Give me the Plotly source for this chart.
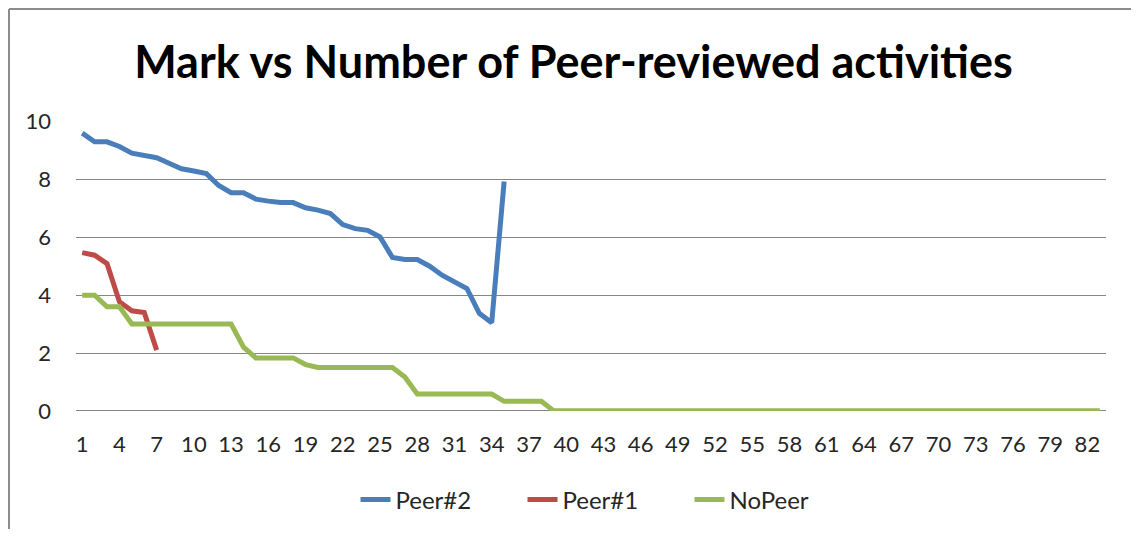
import plotly.graph_objects as go

categories = list(range(1, 84))
tick_vals = list(range(1, 83, 3))
tick_text = [str(v) for v in tick_vals]

peer2 = [9.6, 9.3, 9.3, 9.14, 8.91, 8.85, 8.75, 8.56, 8.37, 8.29, 8.2, 7.79, 7.54, 7.54,
         7.32, 7.25, 7.2, 7.2, 7.02, 6.94, 6.82, 6.44, 6.3, 6.24, 6.01, 5.3, 5.23, 5.23,
         5.0, 4.69, 4.48, 4.23, 3.37, 3.05, 7.93]
peer1 = [5.47, 5.38, 5.09, 3.77, 3.46, 3.4, 2.1]
nopeer = [4.0, 4.0, 3.6, 3.6, 3.0, 3.0, 3.0, 3.0, 3.0, 3.0, 3.0, 3.0, 3.0, 2.2,
          1.83, 1.83, 1.83, 1.83, 1.6, 1.5, 1.5, 1.5, 1.5, 1.5, 1.5, 1.5, 1.17,
          0.58, 0.58, 0.58, 0.58, 0.58, 0.58, 0.58, 0.33, 0.33, 0.33, 0.33,
          0, 0, 0, 0, 0, 0, 0, 0, 0, 0, 0, 0, 0, 0, 0, 0, 0, 0, 0, 0, 0, 0, 0,
          0, 0, 0, 0, 0, 0, 0, 0, 0, 0, 0, 0, 0, 0, 0, 0, 0, 0, 0, 0, 0, 0, 0, 0]

series = [
    ("Peer#2", peer2, "#4A7EBB"),
    ("Peer#1", peer1, "#BE4B48"),
    ("NoPeer", nopeer, "#98B954"),
]

fig = go.Figure()
for name, vals, color in series:
    fig.add_trace(go.Scatter(
        x=categories[:len(vals)], y=vals, mode="lines", name=name,
        line=dict(color=color, width=5),
    ))

# page body has an 8px margin: work in target-pixel coords shifted by OFF
OFF = 8
W, H = 1139 - 2 * OFF, 537 - 2 * OFF
L, R, T, B = 76 - OFF, 1106 - OFF, 121 - OFF, 411 - OFF

def px_x(p):
    return (p - OFF - L) / (R - L)

def px_y(p):
    return (B - (p - OFF)) / (B - T)

fig.update_layout(
    width=W, height=H,
    margin=dict(l=L, r=W - R, t=T, b=H - B, pad=0, autoexpand=False),
    paper_bgcolor="white", plot_bgcolor="white",
    font=dict(family="Lato, Open Sans, sans-serif", color="#262626"),
    title=dict(
        text="<b>Mark vs Number of Peer-reviewed activities</b>",
        font=dict(family="Lato, sans-serif", size=45, color="#000000"),
        x=(573.5 - OFF) / W, xanchor="center", xref="container",
        y=1 - (62 - OFF) / H, yanchor="middle", yref="container",
    ),
    showlegend=True,
    legend=dict(
        orientation="h", x=px_x(606), xanchor="center",
        y=px_y(500), yanchor="middle",
        font=dict(size=24, color="#262626"),
        bgcolor="rgba(0,0,0,0)",
        entrywidthmode="pixels", entrywidth=122,
    ),
    xaxis=dict(
        type="linear", range=[0.5, 83.5],
        tickmode="array", tickvals=tick_vals, ticktext=tick_text,
        showgrid=False, zeroline=False, showline=False, ticks="",
        tickfont=dict(size=22), ticklabelstandoff=18,
    ),
    yaxis=dict(
        range=[-0.005, 10.02], tickmode="array", tickvals=[0, 2, 4, 6, 8, 10],
        showgrid=True, gridcolor="#868686", gridwidth=1,
        zeroline=True, zerolinecolor="#868686", zerolinewidth=1, showline=False, ticks="",
        tickfont=dict(size=22), ticklabelstandoff=24,
    ),
)

# chart-area border: only top and left edges are visible in the reference
border = dict(color="#8C8C8C", width=2)
fig.add_shape(type="line", xref="paper", yref="paper",
              x0=px_x(9), x1=px_x(1139), y0=px_y(9), y1=px_y(9), line=border)
fig.add_shape(type="line", xref="paper", yref="paper",
              x0=px_x(9), x1=px_x(9), y0=px_y(9), y1=px_y(537), line=border)

fig.write_html("out.html")
